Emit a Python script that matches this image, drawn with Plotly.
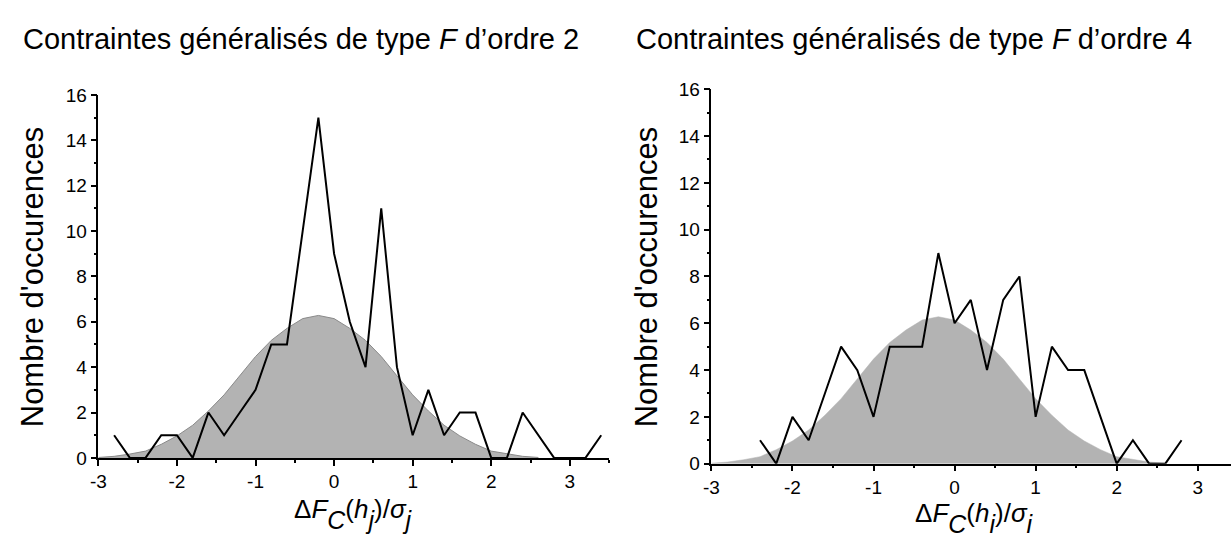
import plotly.graph_objects as go

# Bin centres of the histograms (step 0.2)
x_left = [-2.8, -2.6, -2.4, -2.2, -2.0, -1.8, -1.6, -1.4, -1.2, -1.0, -0.8, -0.6,
          -0.4, -0.2, 0.0, 0.2, 0.4, 0.6, 0.8, 1.0, 1.2, 1.4, 1.6, 1.8, 2.0, 2.2,
          2.4, 2.6, 2.8, 3.0, 3.2, 3.4]
counts_left = [1, 0, 0, 1, 1, 0, 2, 1, 2, 3, 5, 5, 10, 15, 9, 6, 4, 11, 4, 1, 3, 1,
               2, 2, 0, 0, 2, 1, 0, 0, 0, 1]

x_right = [-2.4, -2.2, -2.0, -1.8, -1.6, -1.4, -1.2, -1.0, -0.8, -0.6, -0.4, -0.2,
           0.0, 0.2, 0.4, 0.6, 0.8, 1.0, 1.2, 1.4, 1.6, 1.8, 2.0, 2.2, 2.4, 2.6, 2.8]
counts_right = [1, 0, 2, 1, 3, 5, 4, 2, 5, 5, 5, 9, 6, 7, 4, 7, 8, 2, 5, 4, 4, 2, 0,
                1, 0, 0, 1]

# Fitted normal curve (shaded area)
x_fit = [-3.0, -2.8, -2.6, -2.4, -2.2, -2.0, -1.8, -1.6, -1.4, -1.2, -1.0, -0.8, -0.6,
         -0.4, -0.2, 0.0, 0.2, 0.4, 0.6, 0.8, 1.0, 1.2, 1.4, 1.6, 1.8, 2.0, 2.2,
         2.4, 2.6]
y_fit = [0.02, 0.07, 0.17, 0.30, 0.60, 0.97, 1.44, 2.07, 2.78, 3.62, 4.47, 5.18, 5.71,
         6.14, 6.28, 6.14, 5.71, 5.18, 4.47, 3.62, 2.78, 2.07, 1.44, 0.97, 0.60, 0.30,
         0.17, 0.07, 0.02]

y_ticks = [0, 2, 4, 6, 8, 10, 12, 14, 16]
x_ticks = [-3, -2, -1, 0, 1, 2, 3]
x_ticktext = ["-3", "-2", "-1", "0", "1", "2", "3"]

titles = ["Contraintes généralisés de type <i>F</i> d’ordre 2",
          "Contraintes généralisés de type <i>F</i> d’ordre 4"]
y_title = "Nombre d'occurences"


def x_label(idx):
    sub = '<span style="baseline-shift:-11px;font-size:25px"><i>%s</i></span>'
    return "Δ<i>F</i>" + sub % "C" + "(<i>h</i>" + sub % idx + ")/<i>σ</i>" + sub % idx


FONT = "Liberation Sans, Arial, sans-serif"
W, H = 1231, 550

fig = go.Figure()

fig.add_trace(go.Scatter(x=x_fit, y=y_fit, mode="lines", fill="tozeroy",
                         fillcolor="#b3b3b3", line=dict(color="#8a8a8a", width=1),
                         xaxis="x", yaxis="y", hoverinfo="skip"))
fig.add_trace(go.Scatter(x=x_left, y=counts_left, mode="lines",
                         line=dict(color="black", width=2), xaxis="x", yaxis="y"))
fig.add_trace(go.Scatter(x=x_fit, y=y_fit, mode="lines", fill="tozeroy",
                         fillcolor="#b3b3b3", line=dict(color="#b3b3b3", width=0.5),
                         xaxis="x2", yaxis="y2", hoverinfo="skip"))
fig.add_trace(go.Scatter(x=x_right, y=counts_right, mode="lines",
                         line=dict(color="black", width=2), xaxis="x2", yaxis="y2"))

# pixel geometry of the two panels
left_px = dict(x0=91, x1=605, y0=465.7, y1=88.3)
right_px = dict(x0=708, x1=1231, y0=471.7, y1=82.4)


def axis_common():
    return dict(showline=True, linecolor="black", linewidth=1.5, ticks="outside",
                ticklen=6, tickwidth=1.5, tickcolor="black", showgrid=False,
                zeroline=False, mirror=False,
                tickfont=dict(family=FONT, size=19, color="black"))


def minor(step):
    return dict(dtick=step, tick0=0, ticks="outside", ticklen=3,
                tickwidth=1.5, tickcolor="black")


xa = axis_common()
ya = axis_common()
fig.update_layout(
    width=W, height=H, margin=dict(l=0, r=0, t=0, b=0),
    paper_bgcolor="white", plot_bgcolor="white", showlegend=False,
    xaxis=dict(**xa, domain=[left_px["x0"] / W, left_px["x1"] / W], range=[-3, 3.5],
               tickvals=x_ticks, ticktext=x_ticktext, anchor="y", minor=minor(0.5)),
    yaxis=dict(**ya, domain=[1 - left_px["y0"] / H, 1 - left_px["y1"] / H], range=[0, 16],
               tickvals=y_ticks, anchor="x", minor=minor(1)),
    xaxis2=dict(**xa, domain=[right_px["x0"] / W, 1.0], range=[-3, 3.41],
                tickvals=x_ticks, ticktext=x_ticktext, anchor="y2", minor=minor(0.5)),
    yaxis2=dict(**ya, domain=[1 - right_px["y0"] / H, 1 - right_px["y1"] / H],
                range=[0, 16], tickvals=y_ticks, anchor="x2", minor=minor(1)),
)

ann = []
# panel titles
for tx, txt in [(13, titles[0]), (630, titles[1])]:
    ann.append(dict(text=txt, x=tx / W, y=1 - 30 / H, xref="paper", yref="paper",
                    xanchor="left", yanchor="middle", showarrow=False,
                    font=dict(family=FONT, size=29, color="black")))
# y titles
for px, py0, py1 in [(25, left_px["y0"], left_px["y1"]), (643, right_px["y0"], right_px["y1"])]:
    ann.append(dict(text=y_title, x=px / W, y=1 - (py0 + py1) / 2 / H, xref="paper",
                    yref="paper", xanchor="center", yanchor="middle", textangle=-90,
                    showarrow=False, font=dict(family=FONT, size=31, color="black")))
# x titles
ann.append(dict(text=x_label("j"), x=0.25, y=1 - 524 / H, xref="x", yref="paper",
                xanchor="center", yanchor="middle", showarrow=False,
                font=dict(family=FONT, size=26, color="black")))
ann.append(dict(text=x_label("i"), x=0.25, y=1 - 528 / H, xref="x2", yref="paper",
                xanchor="center", yanchor="middle", showarrow=False,
                font=dict(family=FONT, size=26, color="black")))
fig.update_layout(annotations=ann)

fig.write_html("out.html")
